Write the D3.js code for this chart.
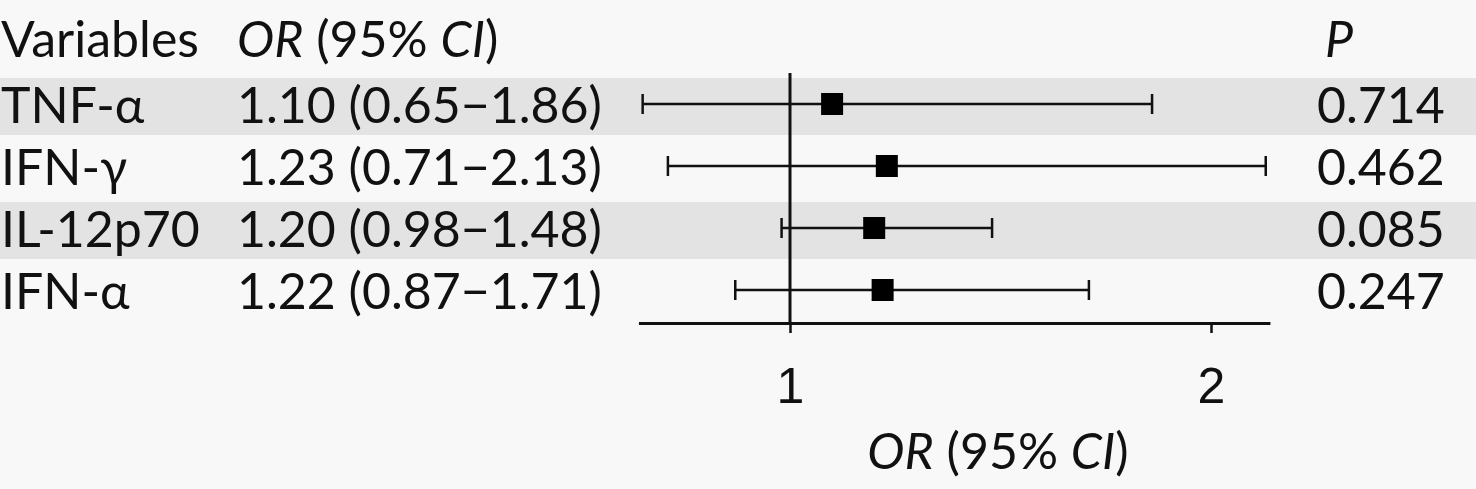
<!DOCTYPE html>
<html>
<head>
<meta charset="utf-8">
<script src="https://cdn.jsdelivr.net/npm/d3@7"></script>
<style>
  body { margin: 0; background: #f8f8f8; }
  svg { display: block; font-family: Lato, 'Liberation Sans', sans-serif; }
</style>
</head>
<body>
<svg width="1476" height="489"></svg>
<script>
// data
var variables = ['TNF-α', 'IFN-γ', 'IL-12p70', 'IFN-α'];
var oddsRatio = [1.10, 1.23, 1.20, 1.22];
var ciLower = [0.65, 0.71, 0.98, 0.87];
var ciUpper = [1.86, 2.13, 1.48, 1.71];
var pValues = ['0.714', '0.462', '0.085', '0.247'];
var tickValues = [1, 2];

var svg = d3.select('svg');
var svgWidth = +svg.attr('width');
var svgHeight = +svg.attr('height');

var fontSize = 50;
var colX = {vars: 1, or: 237, p: 1317};

var rows = variables.map(function(v, i) {
    return {name: v, or: oddsRatio[i], lo: ciLower[i], hi: ciUpper[i], p: pValues[i]};
});

// 1 sits at 790px, 2 at 1211px
var xScale = d3.scaleLinear()
    .domain([0.64, 2.14])
    .range([790 - 0.36 * 421, 790 + 1.14 * 421]);

var yScale = d3.scaleBand()
    .domain(variables)
    .range([73, 321]);

var fmt = d3.format('.2f');

svg.append('rect')
    .attr('width', svgWidth)
    .attr('height', svgHeight)
    .attr('fill', '#f8f8f8');

// shaded bands for odd rows
svg.append('g').selectAll('rect')
    .data(rows.filter(function(d, i) { return i % 2 === 0; }))
    .enter().append('rect')
    .attr('x', 0)
    .attr('width', svgWidth)
    .attr('y', function(d) { return yScale(d.name) + 5; })
    .attr('height', 57)
    .attr('fill', '#e3e3e3');

// header
var header = svg.append('g')
    .attr('font-size', fontSize)
    .attr('fill', '#111');

header.append('text')
    .attr('x', colX.vars)
    .attr('y', 57)
    .text('Variables');

var orHead = header.append('text')
    .attr('x', colX.or)
    .attr('y', 57);
orHead.append('tspan').attr('font-style', 'italic').text('OR');
orHead.append('tspan').text(' (95% ');
orHead.append('tspan').attr('font-style', 'italic').text('CI');
orHead.append('tspan').text(')');

header.append('text')
    .attr('x', colX.p + 8)
    .attr('y', 57)
    .attr('font-style', 'italic')
    .text('P');

// table text
var rowG = svg.append('g').selectAll('.row')
    .data(rows)
    .enter().append('g')
    .attr('class', 'row')
    .attr('font-size', fontSize)
    .attr('fill', '#111')
    .attr('transform', function(d) {
        return 'translate(0,' + (yScale(d.name) + yScale.bandwidth() / 2 + 19) + ')';
    });

rowG.append('text')
    .attr('x', colX.vars)
    .text(function(d) { return d.name; });

rowG.append('text')
    .attr('x', colX.or)
    .text(function(d) { return fmt(d.or) + ' (' + fmt(d.lo) + '\u2212' + fmt(d.hi) + ')'; });

rowG.append('text')
    .attr('x', colX.p)
    .text(function(d) { return d.p; });

// axis
var axisY = 323;
var axis = svg.append('g')
    .attr('transform', 'translate(0,' + axisY + ')')
    .call(d3.axisBottom(xScale).tickValues(tickValues).tickSize(10).tickSizeOuter(0).tickPadding(34).tickFormat(d3.format('d')));

axis.select('.domain').attr('stroke', '#111').attr('stroke-width', 3);
axis.selectAll('.tick line').attr('stroke', '#111').attr('stroke-width', 2.5);
axis.selectAll('.tick text')
    .attr('font-family', null)
    .attr('font-size', fontSize)
    .attr('fill', '#111');

var axisTitle = svg.append('text')
    .attr('x', 998)
    .attr('y', 469)
    .attr('text-anchor', 'middle')
    .attr('font-size', fontSize)
    .attr('fill', '#111');
axisTitle.append('tspan').attr('font-style', 'italic').text('OR');
axisTitle.append('tspan').text(' (95% ');
axisTitle.append('tspan').attr('font-style', 'italic').text('CI');
axisTitle.append('tspan').text(')');

// reference line at OR = 1
svg.append('line')
    .attr('x1', xScale(1)).attr('x2', xScale(1))
    .attr('y1', 73).attr('y2', axisY)
    .attr('stroke', '#111')
    .attr('stroke-width', 3);

// error bars + points
var cap = 10;
var marks = svg.append('g').selectAll('.mark')
    .data(rows)
    .enter().append('g')
    .attr('class', 'mark')
    .attr('transform', function(d) {
        return 'translate(0,' + (yScale(d.name) + yScale.bandwidth() / 2) + ')';
    });

marks.append('line')
    .attr('x1', function(d) { return xScale(d.lo); })
    .attr('x2', function(d) { return xScale(d.hi); })
    .attr('stroke', '#111')
    .attr('stroke-width', 2.5);

marks.selectAll('.cap')
    .data(function(d) { return [d.lo, d.hi]; })
    .enter().append('line')
    .attr('class', 'cap')
    .attr('x1', function(v) { return xScale(v); })
    .attr('x2', function(v) { return xScale(v); })
    .attr('y1', -cap).attr('y2', cap)
    .attr('stroke', '#111')
    .attr('stroke-width', 2.5);

marks.append('rect')
    .attr('x', function(d) { return xScale(d.or) - 11; })
    .attr('y', -11)
    .attr('width', 22)
    .attr('height', 22)
    .attr('fill', '#000');
</script>
</body>
</html>
